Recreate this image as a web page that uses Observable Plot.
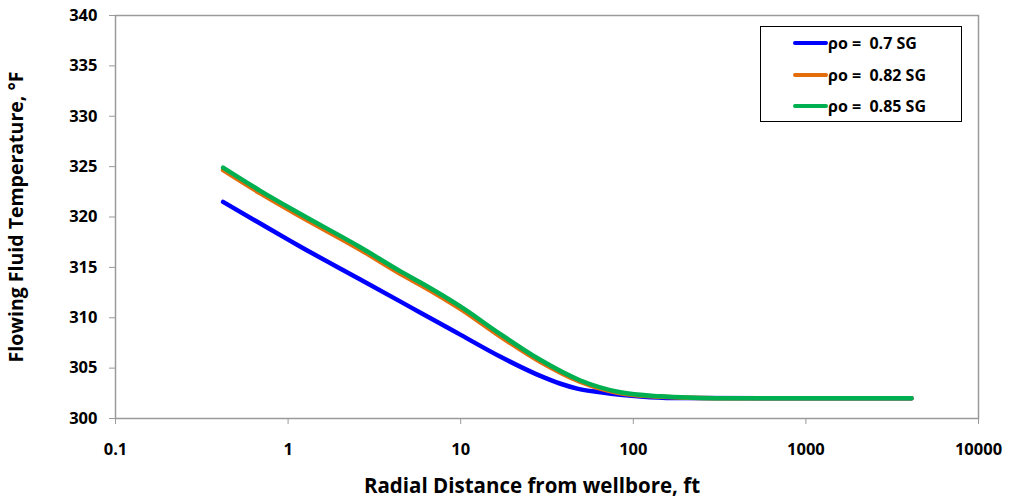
<!DOCTYPE html>
<html>
<head>
<meta charset="utf-8">
<script src="https://cdn.jsdelivr.net/npm/d3@7"></script>
<script src="https://cdn.jsdelivr.net/npm/@observablehq/plot@0.6"></script>
<style>
  html, body { margin: 0; padding: 0; background: #fff; }
  #wrap { position: relative; width: 1011px; height: 502px; font-family: "Open Sans", sans-serif; }
  #legend { position: absolute; left: 760px; top: 26px; width: 202px; height: 96px; border: 1.5px solid #000; background: #fff; box-sizing: border-box; }
  .row { position: absolute; left: 32px; height: 20px; display: flex; align-items: center; font-weight: bold; font-size: 16px; color: #000; white-space: pre; }
  .sw { width: 35px; height: 4px; border-radius: 2px; margin-right: 0px; }
</style>
</head>
<body>
<div id="wrap"></div>
<script>
// Series data (distance in ft, temperature in °F)
const distBlue = [0.42, 0.69, 1.0, 1.18, 2.62, 4.48, 5.85, 10, 16.9, 22.4, 28.7, 37.9, 47.3, 64.6, 84, 125, 200, 1000, 4090];
const tempBlue = [321.5, 319.35, 317.75, 317.05, 313.8, 311.6, 310.5, 308.3, 306.15, 305.1, 304.25, 303.45, 302.97, 302.6, 302.35, 302.12, 302.03, 302.0, 302.0];

const distOrange = [0.42, 0.69, 1.18, 2.62, 4.48, 5.85, 10, 16.9, 28.7, 49, 84, 144, 300, 1000, 4090];
const tempOrange = [324.65, 322.35, 320.05, 316.75, 314.35, 313.25, 310.85, 308.15, 305.65, 303.65, 302.5, 302.15, 302.02, 302.0, 302.0];

const distGreen = [0.42, 0.69, 1.18, 2.62, 4.48, 5.85, 10, 16.9, 28.7, 49, 84, 144, 300, 1000, 4090];
const tempGreen = [324.9, 322.6, 320.3, 317.0, 314.6, 313.5, 311.1, 308.4, 305.85, 303.8, 302.6, 302.2, 302.02, 302.0, 302.0];

const seriesNames = ["ρo =  0.7 SG", "ρo =  0.82 SG", "ρo =  0.85 SG"];
const seriesColors = ["#0000FF", "#E46C0A", "#00B050"];

const xTicks = [0.1, 1, 10, 100, 1000, 10000];
const yTicks = [300, 305, 310, 315, 320, 325, 330, 335, 340];
const xTitle = "Radial Distance from wellbore, ft";
const yTitle = "Flowing Fluid Temperature, °F";

const rows = [];
[[distBlue, tempBlue], [distOrange, tempOrange], [distGreen, tempGreen]].forEach(([xs, ys], i) => {
  xs.forEach((x, j) => rows.push({ series: seriesNames[i], x, t: ys[j] }));
});

const font = "'Open Sans', sans-serif";
const chart = Plot.plot({
  width: 1011,
  height: 502,
  marginLeft: 115,
  marginRight: 33,
  marginTop: 15,
  marginBottom: 84,
  style: { fontFamily: font, fontWeight: "bold", fontSize: "16.5px", color: "#000", background: "#fff" },
  x: { type: "log", domain: [0.1, 10000] },
  y: { domain: [300, 340] },
  color: { domain: seriesNames, range: seriesColors },
  marks: [
    Plot.frame({ stroke: "#9a9a9a", strokeWidth: 1.5 }),
    Plot.axisX({ ticks: xTicks, tickFormat: d => String(d), tickSize: 6, tickPadding: 19, stroke: "#9a9a9a", fill: "#000", label: null }),
    Plot.text([xTitle], { text: d => d, frameAnchor: "bottom", dy: 74, dx: -15, fontSize: 20.5, fill: "#000" }),
    Plot.axisY({ ticks: yTicks, tickSize: 6, tickPadding: 12, stroke: "#9a9a9a", fill: "#000", label: null }),
    Plot.axisY({ ticks: [], label: yTitle, labelAnchor: "center", labelArrow: "none", labelOffset: 106, fontSize: 19.5, fill: "#000" }),
    Plot.line(rows, { x: "x", y: "t", z: "series", stroke: "series", strokeWidth: 4.5, curve: "monotone-x", strokeLinecap: "round" })
  ]
});

const wrap = document.getElementById("wrap");
wrap.appendChild(chart);

const legend = document.createElement("div");
legend.id = "legend";
seriesNames.forEach((name, i) => {
  const r = document.createElement("div");
  r.className = "row";
  r.style.top = (6 + i * 31.7) + "px";
  const sw = document.createElement("div");
  sw.className = "sw";
  sw.style.background = seriesColors[i];
  const tx = document.createElement("span");
  tx.textContent = name;
  r.appendChild(sw); r.appendChild(tx);
  legend.appendChild(r);
});
wrap.appendChild(legend);
</script>
</body>
</html>
